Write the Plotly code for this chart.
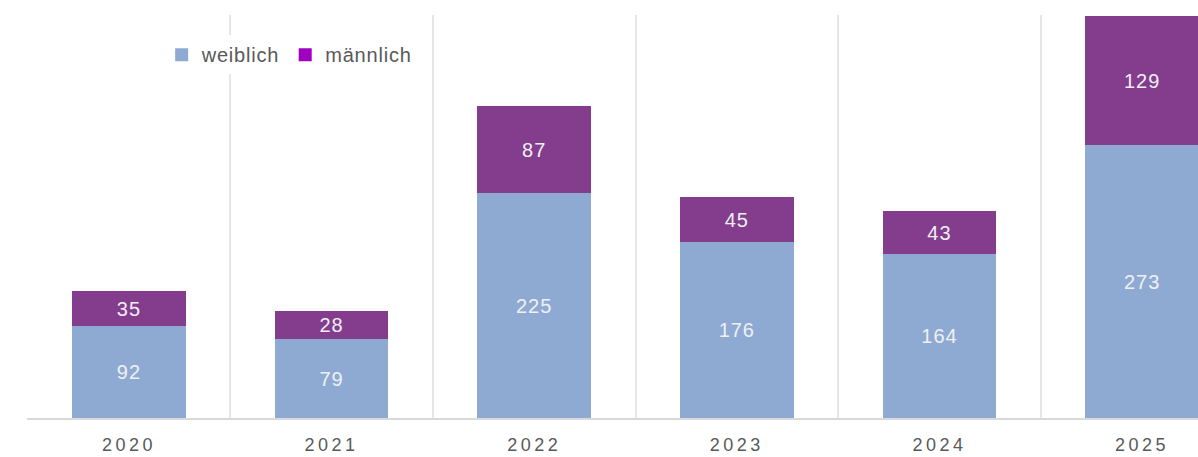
import plotly.graph_objects as go

years = ["2020", "2021", "2022", "2023", "2024", "2025"]
weiblich = [92, 79, 225, 176, 164, 273]
maennlich = [35, 28, 87, 45, 43, 129]

SP = '<span style="letter-spacing:{}px">{}</span>'

fig = go.Figure()

fig.add_trace(
    go.Bar(
        name="weiblich",
        x=years,
        y=weiblich,
        marker_color="#8eaad2",
        text=[SP.format(1, v) for v in weiblich],
        textposition="inside",
        insidetextanchor="middle",
        showlegend=False,
    )
)
fig.add_trace(
    go.Bar(
        name="männlich",
        x=years,
        y=maennlich,
        marker_color="#843c8c",
        text=[SP.format(1, v) for v in maennlich],
        textposition="inside",
        insidetextanchor="middle",
        showlegend=False,
    )
)

# legend entries (legend squares use their own colours)
fig.add_trace(
    go.Scatter(x=[None], y=[None], mode="markers", name=SP.format(0.8, "weiblich"),
               marker=dict(symbol="square", size=13, color="#8eaad2"))
)
fig.add_trace(
    go.Scatter(x=[None], y=[None], mode="markers", name=SP.format(0.8, "männlich"),
               marker=dict(symbol="square", size=13, color="#a000c0"))
)

fig.update_traces(
    selector=dict(type="bar"),
    width=0.56,
    textfont=dict(color="#eef0f4", size=20, family="Liberation Sans, Arial"),
    marker_line_width=0,
)

fig.update_layout(
    barmode="stack",
    width=1198,
    height=457,
    margin=dict(l=27, r=0, t=15, b=39),
    plot_bgcolor="white",
    paper_bgcolor="white",
    font=dict(family="Liberation Sans, Arial", color="#595959"),
    uniformtext=dict(mode=False),
    legend=dict(
        orientation="h",
        traceorder="normal",
        x=0.115,
        y=0.95,
        xanchor="left",
        yanchor="top",
        bgcolor="white",
        font=dict(size=20, color="#595959"),
        itemwidth=30,
    ),
    xaxis=dict(
        type="category",
        range=[-0.503, 5.276],
        tickvals=years,
        ticktext=[SP.format(3.5, y) for y in years],
        tickson="boundaries",
        showgrid=True,
        gridcolor="#e6e6e6",
        gridwidth=2,
        showline=True,
        linecolor="#d9d9d9",
        linewidth=1.5,
        ticks="",
        automargin=False,
        ticklabelstandoff=10,
        tickfont=dict(size=18, color="#595959"),
    ),
    yaxis=dict(
        range=[0, 403],
        showticklabels=False,
        showgrid=False,
        zeroline=False,
        automargin=False,
    ),
)

# drop the default 8px page margin so the figure fills the window
fig.write_html(
    "out.html",
    config={"displayModeBar": False},
    post_script="document.body.style.margin='0';",
)
